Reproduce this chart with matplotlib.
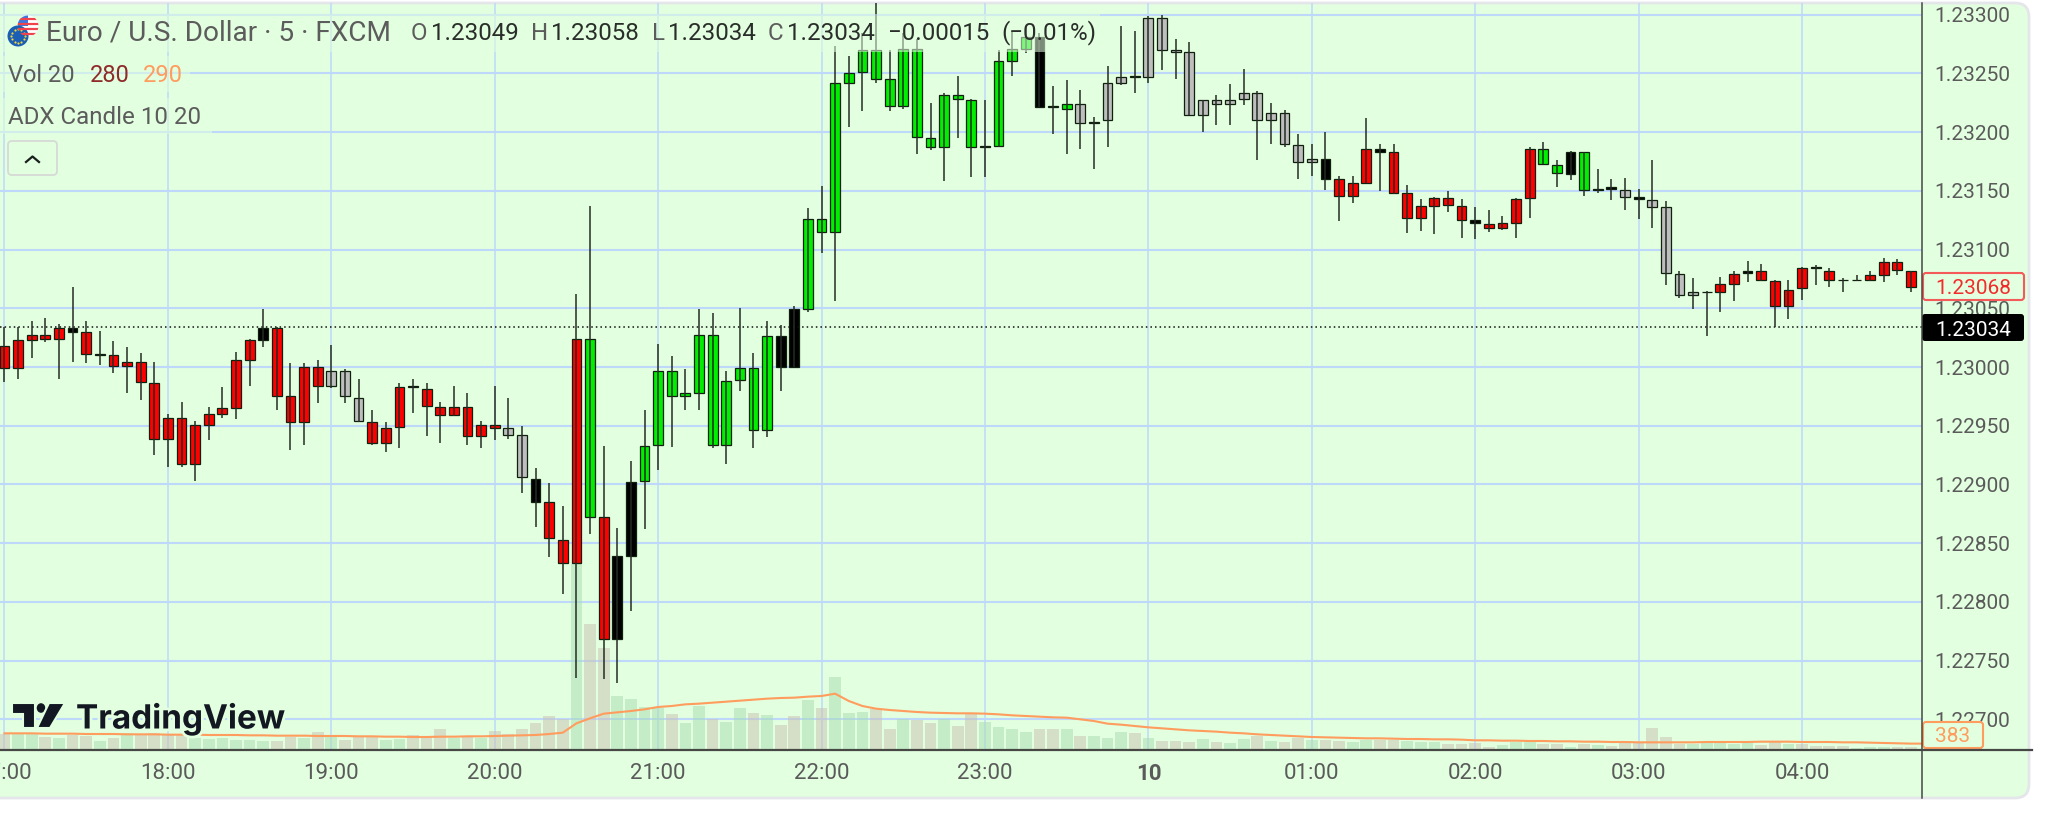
import numpy as np
import matplotlib
matplotlib.use('Agg')
import matplotlib.pyplot as plt
from matplotlib.patches import FancyBboxPatch, Rectangle, Ellipse, Polygon
import matplotlib.patheffects as pe

plt.rcParams['font.family'] = ['Roboto', 'DejaVu Sans']

# prices in points (1e-5), one value per 5 minute candle starting 17:00
highs = [123034, 123034, 123039, 123042, 123037, 123068, 123039, 123031, 123022, 123017,
         123012, 123004, 122960, 122970, 122954, 122966, 122983, 123013, 123024, 123049,
         123034, 123003, 123003, 123006, 123019, 122998, 122990, 122963, 122953, 122986,
         122990, 122986, 122970, 122984, 122978, 122954, 122984, 122974, 122950, 122914,
         122901, 122882, 123062, 123137, 122933, 122863, 122920, 122963, 123020, 123009,
         122998, 123049, 123046, 122997, 123050, 123012, 123039, 123036, 123052, 123135,
         123154, 123273, 123265, 123284, 123310, 123270, 123284, 123279, 123225, 123233,
         123248, 123228, 123227, 123270, 123286, 123290, 123284, 123239, 123244, 123236,
         123213, 123256, 123290, 123286, 123299, 123300, 123279, 123277, 123227, 123232,
         123241, 123254, 123235, 123225, 123219, 123198, 123190, 123200, 123163, 123163,
         123212, 123190, 123190, 123155, 123143, 123145, 123150, 123143, 123136, 123134,
         123129, 123144, 123187, 123192, 123176, 123184, 123183, 123169, 123160, 123161,
         123152, 123176, 123141, 123082, 123076, 123065, 123077, 123082, 123090, 123088,
         123074, 123074, 123085, 123087, 123084, 123076, 123078, 123082, 123093, 123092,
         123082]
body_hi = [123018, 123023, 123027, 123027, 123033, 123033, 123030, 123011, 123010, 123004,
           123004, 122986, 122957, 122957, 122951, 122960, 122965, 123006, 123023, 123033,
           123033, 122975, 123000, 123000, 122997, 122997, 122974, 122953, 122948, 122983,
           122984, 122981, 122966, 122966, 122966, 122951, 122951, 122948, 122942, 122905,
           122885, 122853, 123024, 123024, 122872, 122839, 122902, 122933, 122997, 122997,
           122978, 123027, 123027, 122988, 122999, 122999, 123026, 123026, 123049, 123126,
           123126, 123242, 123250, 123270, 123270, 123245, 123271, 123271, 123195, 123232,
           123232, 123227, 123188, 123261, 123271, 123281, 123281, 123222, 123224, 123224,
           123209, 123242, 123247, 123248, 123297, 123297, 123270, 123268, 123227, 123227,
           123227, 123233, 123233, 123216, 123216, 123189, 123177, 123177, 123160, 123157,
           123186, 123186, 123183, 123148, 123137, 123144, 123144, 123137, 123125, 123122,
           123123, 123143, 123186, 123186, 123172, 123183, 123183, 123152, 123153, 123151,
           123145, 123142, 123136, 123079, 123064, 123064, 123071, 123079, 123082, 123082,
           123073, 123066, 123084, 123085, 123082, 123074, 123074, 123078, 123089, 123089,
           123082]
body_lo = [122999, 122999, 123023, 123024, 123024, 123030, 123011, 123010, 123001, 123001,
           122987, 122939, 122939, 122917, 122917, 122951, 122960, 122965, 123006, 123023,
           122975, 122953, 122953, 122984, 122984, 122975, 122954, 122935, 122935, 122949,
           122983, 122967, 122959, 122959, 122941, 122941, 122948, 122942, 122906, 122885,
           122854, 122833, 122833, 122872, 122768, 122768, 122839, 122903, 122934, 122975,
           122975, 122978, 122934, 122934, 122989, 122946, 122946, 123000, 123000, 123049,
           123115, 123115, 123242, 123251, 123245, 123222, 123222, 123196, 123187, 123187,
           123228, 123187, 123187, 123188, 123261, 123271, 123221, 123221, 123220, 123208,
           123208, 123210, 123242, 123247, 123247, 123270, 123268, 123215, 123215, 123224,
           123224, 123228, 123210, 123210, 123190, 123175, 123175, 123160, 123146, 123146,
           123157, 123183, 123148, 123127, 123127, 123137, 123138, 123125, 123123, 123118,
           123118, 123123, 123144, 123173, 123165, 123164, 123151, 123151, 123152, 123145,
           123143, 123136, 123080, 123061, 123061, 123064, 123064, 123071, 123080, 123074,
           123052, 123052, 123067, 123084, 123074, 123074, 123074, 123074, 123078, 123083,
           123068]
lows = [122987, 122990, 123008, 123021, 122990, 123004, 123003, 123002, 122995, 122978,
        122972, 122925, 122915, 122915, 122903, 122938, 122957, 122956, 122984, 123017,
        122963, 122929, 122934, 122969, 122982, 122969, 122953, 122934, 122928, 122931,
        122961, 122941, 122935, 122958, 122934, 122931, 122938, 122939, 122893, 122864,
        122838, 122807, 122735, 122858, 122734, 122731, 122792, 122862, 122912, 122932,
        122963, 122963, 122931, 122917, 122980, 122931, 122940, 122980, 123000, 123047,
        123097, 123056, 123204, 123218, 123242, 123218, 123220, 123181, 123185, 123158,
        123195, 123162, 123162, 123187, 123248, 123267, 123221, 123198, 123181, 123186,
        123169, 123187, 123240, 123233, 123242, 123253, 123245, 123215, 123200, 123206,
        123206, 123223, 123176, 123190, 123187, 123160, 123163, 123151, 123124, 123140,
        123157, 123150, 123147, 123114, 123116, 123113, 123132, 123110, 123109, 123115,
        123117, 123110, 123127, 123173, 123153, 123159, 123146, 123148, 123142, 123134,
        123126, 123118, 123070, 123059, 123049, 123026, 123047, 123056, 123072, 123073,
        123034, 123041, 123057, 123070, 123068, 123064, 123073, 123073, 123072, 123078,
        123064]
candle_kinds = ("rrrrrkrkrr" "rrrrrrrrrk" "rrrrsssrrr" "krrrrrrssk" "rrrgrkkggg"
                "gggggggkkg" "gggggggggg" "ggkgggkkgs" "ksskssssss" "sssssssKrr".lower()
                + "rkrrrrrrkr" "rrrggkgkks" "kssssk" "rrkr" "rrrkrkkrrrr")

volumes = [940, 940, 940, 780, 700, 880, 840, 540, 700, 1000,
           880, 1000, 880, 880, 740, 640, 700, 600, 600, 540,
           540, 780, 740, 1060, 780, 600, 780, 780, 600, 640,
           900, 740, 1280, 700, 780, 700, 1140, 940, 1240, 1640,
           2040, 1840, 11140, 7580, 6100, 3240, 3040, 2600, 2540, 2180,
           1640, 2640, 1840, 1700, 2540, 2200, 2080, 1500, 2020, 3000,
           2540, 4380, 2200, 2260, 2440, 1280, 1840, 1800, 1620, 1840,
           1440, 2180, 1660, 1380, 1240, 1080, 1280, 1240, 1240, 860,
           820, 720, 1080, 1020, 720, 540, 560, 500, 640, 500,
           400, 640, 840, 560, 500, 740, 580, 620, 560, 500,
           620, 620, 580, 520, 500, 460, 340, 360, 420, 200,
           300, 460, 500, 380, 380, 200, 380, 320, 260, 420,
           440, 1300, 780, 380, 380, 420, 420, 380, 420, 320,
           460, 380, 340, 260, 260, 260, 120, 180, 180, 180,
           180]
volume_kinds = ("tggtgttgtg" "ttttgggggg" "ttgtgtttgg" "tttgtgtttt" "ttgttggggt"
                "ggtggtgttg" "tgggttgttg" "ttggggttgt" "gggtgttt" "gtggtgttgt"
                "tggttgggtt" "ttgggttgtg" "ttttttgggg" "gttgttttgggtt")
volume_ma = [1000, 1000, 1000, 980, 980, 980, 960, 960, 960, 940,
             940, 940, 920, 920, 920, 900, 900, 900, 880, 880,
             860, 860, 860, 840, 840, 840, 820, 820, 800, 800,
             780, 780, 800, 800, 820, 820, 840, 860, 880, 900,
             960, 1040, 1600, 1900, 2180, 2260, 2340, 2440, 2580, 2640,
             2740, 2780, 2840, 2900, 2960, 3020, 3080, 3120, 3140, 3200,
             3240, 3380, 2940, 2640, 2480, 2400, 2340, 2280, 2240, 2220,
             2200, 2200, 2180, 2140, 2080, 2040, 2000, 1960, 1940, 1840,
             1740, 1580, 1520, 1440, 1360, 1300, 1240, 1180, 1140, 1100,
             1040, 1000, 940, 900, 860, 820, 780, 760, 740, 720,
             700, 700, 680, 660, 660, 640, 640, 620, 580, 580,
             560, 560, 540, 540, 520, 520, 500, 500, 480, 480,
             460, 460, 460, 460, 460, 480, 480, 480, 480, 500,
             500, 500, 480, 480, 480, 460, 460, 440, 420, 400,
             383]

price_ticks = [1.227, 1.2275, 1.228, 1.2285, 1.229, 1.2295, 1.23, 1.2305, 1.231, 1.2315, 1.232, 1.2325, 1.233]
hour_labels = ['17:00', '18:00', '19:00', '20:00', '21:00', '22:00', '23:00', '10', '01:00', '02:00', '03:00', '04:00']
hour_index = [0, 12, 24, 36, 48, 60, 72, 84, 96, 108, 120, 132]
last_price = 1.23034
mark_price = 1.23068
ma_last = 383

PANEL = '#E2FFDF'
GRID = '#BDD8FB'
body_colors = {'r': '#FF0000', 'g': '#00EE00', 'k': '#000000', 's': '#BEBEBE'}
volume_colors = {'g': '#A8DDB1', 't': '#CABFB1'}

W, H = 2048, 821
fig = plt.figure(figsize=(W / 100, H / 100), dpi=100, facecolor='white')


def px_axes(z):
    a = fig.add_axes([0, 0, 1, 1], zorder=z)
    a.set_xlim(0, W)
    a.set_ylim(H, 0)
    a.axis('off')
    return a


under = px_axes(0)
under.add_patch(FancyBboxPatch((-30, 3), 2059, 795, boxstyle='round,pad=0,rounding_size=14',
                               fc=PANEL, ec='#E4E6EA', lw=2))

# chart area, pixels 0..1921.6 across and 3..750 down
rect = [0, 1 - 750 / H, 1921.6 / W, 747 / H]
xlim = (-0.33, 140.78)
ylim = (1.233 - (750 - 14.7) / 58.72 * 0.0005, 1.233 + (14.7 - 3) / 58.72 * 0.0005)
x = np.arange(len(highs))

grid_ax = fig.add_axes(rect, zorder=1, facecolor='none')
grid_ax.set_xlim(xlim)
grid_ax.set_ylim(ylim)
grid_ax.axis('off')
grid_ax.hlines(price_ticks, xlim[0], xlim[1], color=GRID, lw=1.5)
grid_ax.vlines(hour_index, ylim[0], ylim[1], color=GRID, lw=1.1)

vol_ax = fig.add_axes(rect, zorder=2, facecolor='none')
vol_ax.set_xlim(xlim)
vol_ax.set_ylim(0, 747 * 60)
vol_ax.axis('off')
vol_ax.bar(x, volumes, width=0.86, color=[volume_colors[k] for k in volume_kinds], alpha=0.5, lw=0)
vol_ax.plot(list(x) + [xlim[1]], volume_ma + [ma_last], color='#FF9C5E', lw=1.5)

ax = fig.add_axes(rect, zorder=3, facecolor='none')
ax.set_xlim(xlim)
ax.set_ylim(ylim)
ax.hlines(last_price, xlim[0], xlim[1], color='#111111', lw=1.1, linestyles=(0, (1, 2)))
ax.vlines(x, np.array(lows) / 1e5, np.array(highs) / 1e5, color='#242c24', lw=1.1)
ax.bar(x, (np.array(body_hi) - np.array(body_lo)) / 1e5, bottom=np.array(body_lo) / 1e5, width=0.72,
       color=[body_colors[k] for k in candle_kinds], edgecolor='#10200f', lw=0.9)
for side in ['top', 'left', 'bottom', 'right']:
    ax.spines[side].set_visible(False)
ax.yaxis.tick_right()
ax.set_yticks(price_ticks)
ax.set_yticklabels(['%.5f' % p for p in price_ticks], fontsize=15, color='#5A5A5A')
ax.tick_params(axis='y', length=0, pad=9.5)
ax.set_xticks(hour_index)
ax.set_xticklabels(hour_labels, fontsize=16, color='#5A5A5A')
ax.tick_params(axis='x', length=0, pad=9.5)
ax.get_xticklabels()[7].set_fontweight('bold')

over = px_axes(5)
# washed out strips behind the legend rows
for rx, ry, rw, rh in [(0, 14, 1100, 38), (0, 56, 190, 36), (0, 98, 212, 36)]:
    over.add_patch(Rectangle((rx, ry), rw, rh, fc=PANEL, ec='none', alpha=0.55))

over.plot([1921.6, 1921.6], [3, 798], color='#454845', lw=1.1)
over.plot([0, 2032], [750, 750], color='#454845', lw=1.6)

# symbol icon
flag = Ellipse((28, 26), 21, 21, fc='white', ec='none')
over.add_patch(flag)
for yy in [19, 24, 29, 34]:
    over.plot([18, 39], [yy, yy], color='#F0444C', lw=1.6, clip_path=flag)
over.add_patch(Rectangle((18, 15), 10, 11, fc='#3C78E0', ec='none', clip_path=flag))
over.add_patch(Ellipse((18, 36), 21, 21, fc='#1B5FB5', ec='none'))
ang = np.linspace(0, 2 * np.pi, 12, endpoint=False)
over.scatter(18 + 6.8 * np.cos(ang), 36 + 6.8 * np.sin(ang), s=2.5, color='#F5D33A', lw=0)

# legend rows
GREY = '#5C5C5C'
DARK = '#2A2E2A'
over.text(46, 33.5, 'Euro / U.S. Dollar \u00b7 5 \u00b7 FXCM', fontsize=20.2, color=GREY, va='center')
for tx, s, c in [(411, 'O', GREY), (431, '1.23049', DARK), (531, 'H', GREY), (551, '1.23058', DARK),
                 (652, 'L', GREY), (668, '1.23034', DARK), (768, 'C', GREY), (787, '1.23034', DARK),
                 (888, '\u22120.00015', DARK), (1001, '(\u22120.01%)', DARK)]:
    over.text(tx, 33, s, fontsize=17.4, color=c, va='center')
over.text(8, 76, 'Vol 20', fontsize=17, color=GREY, va='center')
over.text(90, 76, '280', fontsize=17, color='#8E2A2A', va='center')
over.text(143, 76, '290', fontsize=17, color='#FF9C5E', va='center')
over.text(8, 118, 'ADX Candle 10 20', fontsize=17.4, color=GREY, va='center')

# collapse button
over.add_patch(FancyBboxPatch((8, 141), 49, 34, boxstyle='round,pad=0,rounding_size=4',
                              fc=PANEL, ec='#D6DAD6', lw=1.3))
over.plot([26, 32.5, 39], [162, 156.5, 162], color='#1A1E1E', lw=1.6)

# price tags
over.add_patch(FancyBboxPatch((1923, 273), 101, 27, boxstyle='round,pad=0,rounding_size=3',
                              fc=PANEL, ec='#F45A5A', lw=1.5))
over.text(1935, 289, '%.5f' % mark_price, fontsize=15, color='#F22C2C', va='center')
over.add_patch(FancyBboxPatch((1922, 314), 102, 27, boxstyle='round,pad=0,rounding_size=3',
                              fc='#000000', ec='none'))
over.text(1935, 330, '%.5f' % last_price, fontsize=15, color='white', va='center')
over.add_patch(FancyBboxPatch((1923, 722), 60, 26, boxstyle='round,pad=0,rounding_size=3',
                              fc=PANEL, ec='#FF9C5E', lw=1.5))
over.text(1953, 737, str(ma_last), fontsize=15, color='#FF9C5E', va='center', ha='center')

# TradingView mark
halo = [pe.withStroke(linewidth=4, foreground=PANEL)]
mark = '#131722'
over.add_patch(Polygon([(12, 703), (35, 703), (35, 728), (23, 728), (23, 714), (12, 714)], fc=mark, ec=PANEL, lw=1.5))
over.add_patch(Ellipse((41, 708), 10, 11, fc=mark, ec=PANEL, lw=1))
over.add_patch(Polygon([(49, 703), (65, 703), (50, 728), (37, 728)], fc=mark, ec=PANEL, lw=1.5))
over.text(76, 719, 'TradingView', fontsize=24, fontweight='bold', color=mark, va='center',
          family=['Inter', 'DejaVu Sans'], path_effects=halo)

fig.savefig('out.png', dpi=100)
